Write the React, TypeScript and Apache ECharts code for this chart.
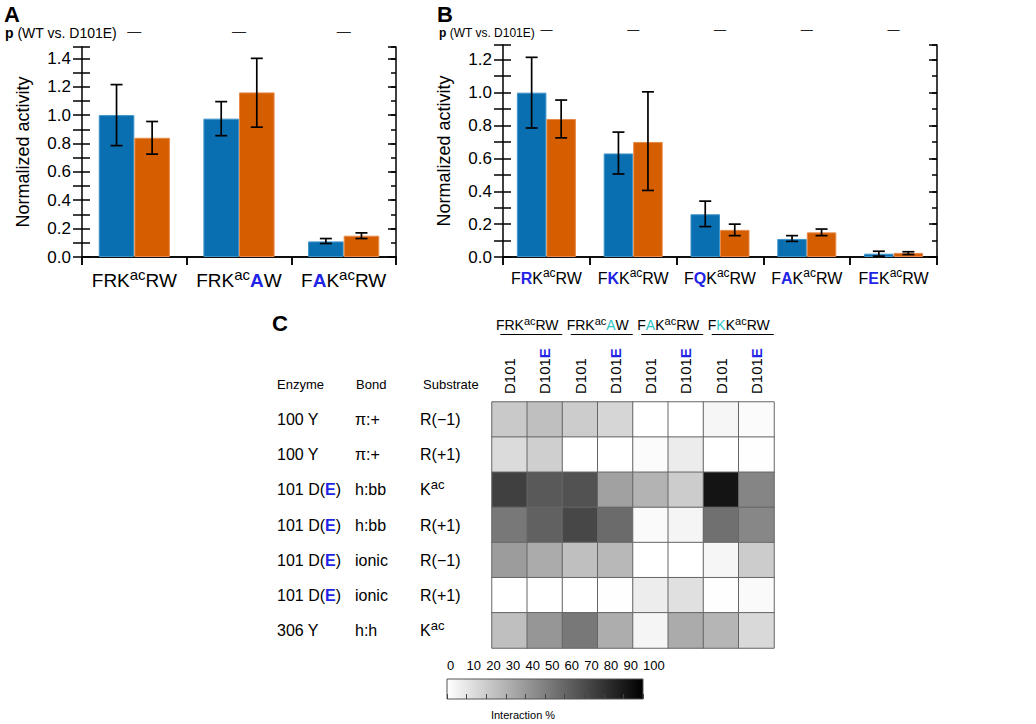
import React, { useEffect, useRef } from "react";
import * as echarts from "echarts";

const FONT = '"Liberation Sans", Arial, Helvetica, sans-serif';
const BLUE = "#0a6fb0";
const ORANGE = "#d55e00";
const MUT = "#1f24e6";
const CYAN = "#2cc4c8";

// Panel A
const catsA = ["FRK{s|ac}RW", "FRK{s|ac}{m|A}W", "F{m|A}K{s|ac}RW"];
const pA = ["—", "—", "—"];
const wtA = [1.0, 0.975, 0.11];
const wtLoA = [0.785, 0.855, 0.095];
const wtHiA = [1.215, 1.095, 0.13];
const mutA = [0.84, 1.16, 0.15];
const mutLoA = [0.725, 0.915, 0.13];
const mutHiA = [0.955, 1.4, 0.17];

// Panel B
const catsB = ["F{m|R}K{s|ac}RW", "F{m|K}K{s|ac}RW", "F{m|Q}K{s|ac}RW", "F{m|A}K{s|ac}RW", "F{m|E}K{s|ac}RW"];
const pB = ["—", "—", "—", "—", "—"];
const wtB = [1.0, 0.63, 0.26, 0.11, 0.02];
const wtLoB = [0.785, 0.505, 0.185, 0.095, 0.005];
const wtHiB = [1.215, 0.76, 0.34, 0.13, 0.035];
const mutB = [0.84, 0.7, 0.165, 0.15, 0.025];
const mutLoB = [0.725, 0.405, 0.13, 0.13, 0.015];
const mutHiB = [0.955, 1.005, 0.2, 0.17, 0.032];

// Panel C
const groupLabels = ["FRK{s|ac}RW", "FRK{s|ac}{c|A}W", "F{c|A}K{s|ac}RW", "F{c|K}K{s|ac}RW"];
const colLabels = ["D101", "D101E", "D101", "D101E", "D101", "D101E", "D101", "D101E"];
const enzymes = ["100 Y", "100 Y", "101 D(E)", "101 D(E)", "101 D(E)", "101 D(E)", "306 Y"];
const bonds = ["π:+", "π:+", "h:bb", "h:bb", "ionic", "ionic", "h:h"];
const substrates = ["R(−1)", "R(+1)", "Kac", "R(+1)", "R(−1)", "R(+1)", "Kac"];
const heatRows = [
  [21, 25, 20, 16, 0, 0, 3.5, 1.5],
  [14, 19, 0, 0, 1.5, 7.5, 0, 0.5],
  [75, 65, 68, 37, 30, 20, 92, 48],
  [53, 62, 72, 58, 2, 4, 56, 47],
  [39, 33, 25, 28, 0, 0, 3.5, 20],
  [0, 0, 0, 0.5, 7, 12, 0.5, 2],
  [25, 41, 53, 32, 4, 33, 29, 15],
];
const colorbarTicks = { min: 0, max: 100, step: 10 };

const BAR_FRAC = 0.34;

function errSeries(xi: number, yi: number, lo: number[], hi: number[], sign: number) {
  return {
    type: "custom",
    xAxisIndex: xi,
    yAxisIndex: yi,
    silent: true,
    z: 10,
    data: lo.map((l, i) => [i, l, hi[i]]),
    renderItem: (_p: any, api: any) => {
      const i = api.value(0);
      const p1 = api.coord([i, api.value(1)]);
      const p2 = api.coord([i, api.value(2)]);
      const band = api.size([1, 0])[0];
      const x = p1[0] + (sign * band * BAR_FRAC) / 2;
      const cap = 6;
      const st = { stroke: "#000", lineWidth: 1.7 };
      return {
        type: "group",
        children: [
          { type: "line", shape: { x1: x, y1: p1[1], x2: x, y2: p2[1] }, style: st },
          { type: "line", shape: { x1: x - cap, y1: p1[1], x2: x + cap, y2: p1[1] }, style: st },
          { type: "line", shape: { x1: x - cap, y1: p2[1], x2: x + cap, y2: p2[1] }, style: st },
        ],
      };
    },
  };
}

const lineSt = { color: "#000", width: 1.5 };

function barXAxes(grid: number, cats: string[], ps: string[], fontSize: number, pSize: number) {
  return [
    {
      type: "category",
      gridIndex: grid,
      position: "bottom",
      data: cats,
      axisLine: { show: true, lineStyle: lineSt },
      axisTick: { show: true, length: 8, lineStyle: lineSt },
      axisLabel: {
        interval: 0,
        color: "#000",
        fontSize,
        fontFamily: FONT,
        margin: 10,
        rich: {
          s: { fontSize: fontSize - 4, fontFamily: FONT, color: "#000", padding: [0, 0, 11, 0] },
          m: { fontSize, fontFamily: FONT, fontWeight: "bold", color: MUT },
        },
      },
    },
    {
      type: "category",
      gridIndex: grid,
      position: "top",
      data: ps,
      axisLine: { show: true, lineStyle: lineSt },
      axisTick: { show: true, inside: true, length: 8, lineStyle: lineSt },
      axisLabel: { interval: 0, color: "#222", fontSize: pSize, fontFamily: FONT, margin: 9 },
    },
  ];
}

function barYAxes(grid: number, max: number) {
  const common = { type: "value", gridIndex: grid, min: 0, max, splitLine: { show: false } };
  return [
    {
      ...common,
      position: "left",
      interval: 0.1,
      axisLine: { show: true, lineStyle: lineSt },
      axisTick: { show: true, length: 9, lineStyle: lineSt },
      axisLabel: {
        color: "#000",
        fontSize: 17,
        fontFamily: FONT,
        margin: 11,
        formatter: (v: number) => (Math.round(v * 10) % 2 === 0 ? v.toFixed(1) : ""),
      },
      name: "Normalized activity",
      nameLocation: "middle",
      nameGap: 50,
      nameTextStyle: { fontSize: 18, color: "#000", fontFamily: FONT },
    },
    {
      ...common,
      position: "left",
      interval: 0.1,
      axisLine: { show: false },
      axisTick: { show: true, inside: true, length: 8, lineStyle: lineSt },
      axisLabel: { show: false },
    },
    {
      ...common,
      position: "right",
      interval: 0.2,
      axisLine: { show: true, lineStyle: lineSt },
      axisTick: { show: true, inside: true, length: 8, lineStyle: lineSt },
      axisLabel: { show: false },
    },
    {
      ...common,
      position: "right",
      interval: 0.1,
      axisLine: { show: false },
      axisTick: { show: true, inside: true, length: 5, lineStyle: lineSt },
      axisLabel: { show: false },
    },
  ];
}

function barSeries(xi: number, yi: number, data: number[], color: string, border: string) {
  return {
    type: "bar",
    xAxisIndex: xi,
    yAxisIndex: yi,
    data,
    barWidth: BAR_FRAC * 100 + "%",
    barGap: "0%",
    silent: true,
    itemStyle: { color, borderColor: border, borderWidth: 1 },
  };
}

function heatYAxis(data: string[], margin: number, formatter: (v: string) => string) {
  return {
    type: "category",
    gridIndex: 2,
    inverse: true,
    position: "left",
    data,
    axisLine: { show: false },
    axisTick: { show: false },
    splitLine: { show: false },
    axisLabel: {
      interval: 0,
      align: "left",
      margin,
      color: "#000",
      fontSize: 16,
      fontFamily: FONT,
      formatter,
      rich: {
        e: { color: MUT, fontWeight: "bold", fontSize: 16, fontFamily: FONT },
        s: { fontSize: 13, fontFamily: FONT, color: "#000", padding: [0, 0, 10, 0] },
      },
    },
  };
}

const heatData: number[][] = [];
heatRows.forEach((row, r) => row.forEach((v, c) => heatData.push([c, r, v])));

const HX = 492, HY = 402, HW = 282, HH = 246;
const CB = { x: 447, y: 679, w: 196, h: 20 };

function txt(text: string, x: number, y: number, fontSize: number, extra: any = {}) {
  return {
    type: "text",
    x,
    y,
    silent: true,
    style: {
      text,
      fontSize,
      fontFamily: FONT,
      fill: "#000",
      align: "left",
      verticalAlign: "middle",
      textAlign: "left",
      textVerticalAlign: "middle",
      ...extra,
    },
  };
}

const underlines = groupLabels.map((_, g) => {
  const cw = HW / 8;
  const cx = HX + (2 * g + 1) * cw + 4;
  return {
    type: "line",
    silent: true,
    shape: { x1: cx - 31, y1: 334.5, x2: cx + 31, y2: 334.5 },
    style: { stroke: "#000", lineWidth: 1.2 },
  };
});

const option: any = {
  animation: false,
  textStyle: { fontFamily: FONT },
  grid: [
    { left: 82, top: 47, width: 314, height: 210 },
    { left: 503, top: 45, width: 434, height: 212 },
    { left: HX, top: HY, width: HW, height: HH },
    { left: CB.x, top: CB.y, width: CB.w, height: CB.h },
  ],
  xAxis: [
    ...barXAxes(0, catsA, pA, 19, 14),
    ...barXAxes(1, catsB, pB, 16, 12),
    {
      type: "category",
      gridIndex: 2,
      position: "top",
      data: colLabels,
      axisLine: { show: false },
      axisTick: { show: false },
      axisLabel: {
        interval: 0,
        rotate: -90,
        margin: 8,
        color: "#000",
        fontSize: 15,
        fontFamily: FONT,
        formatter: (v: string) => (v.endsWith("E") ? v.slice(0, -1) + "{e|E}" : v),
        rich: { e: { color: MUT, fontWeight: "bold", fontSize: 15, fontFamily: FONT } },
      },
    },
    {
      type: "category",
      gridIndex: 2,
      position: "top",
      offset: 62,
      data: groupLabels,
      axisLine: { show: false },
      axisTick: { show: false },
      axisLabel: {
        interval: 0,
        margin: 6,
        color: "#000",
        fontSize: 14,
        fontFamily: FONT,
        rich: {
          s: { fontSize: 11, fontFamily: FONT, color: "#000", padding: [0, 0, 8, 0] },
          c: { fontSize: 14, fontFamily: FONT, color: CYAN },
        },
      },
    },
    {
      type: "value",
      gridIndex: 3,
      position: "top",
      min: colorbarTicks.min,
      max: colorbarTicks.max,
      interval: colorbarTicks.step,
      axisLine: { show: false },
      axisTick: { show: true, length: 5, lineStyle: { color: "#444", width: 1 } },
      axisLabel: { margin: 7, align: "left", color: "#000", fontSize: 13, fontFamily: FONT },
      splitLine: { show: false },
    },
  ],
  yAxis: [
    ...barYAxes(0, 1.48),
    ...barYAxes(1, 1.29),
    heatYAxis(enzymes, 215, (v) => v.replace("(E)", "({e|E})")),
    heatYAxis(bonds, 137, (v) => v),
    heatYAxis(substrates, 72, (v) => v.replace("Kac", "K{s|ac}")),
    { type: "value", gridIndex: 3, show: false, min: 0, max: 1 },
  ],
  visualMap: {
    type: "continuous",
    show: false,
    min: 0,
    max: 100,
    seriesIndex: 8,
    dimension: 2,
    inRange: { color: ["#ffffff", "#000000"] },
  },
  series: [
    barSeries(0, 0, wtA, BLUE, "#3d94c9"),
    barSeries(0, 0, mutA, ORANGE, "#e88a4a"),
    errSeries(0, 0, wtLoA, wtHiA, -1),
    errSeries(0, 0, mutLoA, mutHiA, 1),
    barSeries(2, 4, wtB, BLUE, "#3d94c9"),
    barSeries(2, 4, mutB, ORANGE, "#e88a4a"),
    errSeries(2, 4, wtLoB, wtHiB, -1),
    errSeries(2, 4, mutLoB, mutHiB, 1),
    {
      type: "heatmap",
      xAxisIndex: 4,
      yAxisIndex: 8,
      data: heatData,
      silent: true,
      itemStyle: { borderColor: "#666", borderWidth: 1 },
      emphasis: { disabled: true },
    },
  ],
  graphic: [
    txt("A", 4, 14, 22, { fontWeight: "bold" }),
    txt("B", 437, 14, 22, { fontWeight: "bold" }),
    txt("C", 272, 323, 22, { fontWeight: "bold" }),
    txt("{b|p} (WT vs. D101E)", 5, 33, 14, { rich: { b: { fontWeight: "bold", fontSize: 14, fontFamily: FONT } } }),
    txt("{b|p} (WT vs. D101E)", 439, 33, 12, { rich: { b: { fontWeight: "bold", fontSize: 12, fontFamily: FONT } } }),
    txt("Enzyme", 277, 384, 13),
    txt("Bond", 356, 384, 13),
    txt("Substrate", 423, 384, 13),
    ...underlines,
    {
      type: "rect",
      silent: true,
      shape: { x: CB.x, y: CB.y, width: CB.w, height: CB.h },
      style: {
        fill: new echarts.graphic.LinearGradient(0, 0, 1, 0, [
          { offset: 0, color: "#ffffff" },
          { offset: 1, color: "#000000" },
        ]),
        stroke: "#555",
        lineWidth: 1,
      },
    },
    txt("Interaction %", 523, 715, 11, { align: "center", textAlign: "center" }),
  ],
};

export default function App() {
  const ref = useRef<HTMLDivElement>(null);
  useEffect(() => {
    const chart = echarts.init(ref.current!, null, { renderer: "svg" });
    chart.setOption(option);
    return () => chart.dispose();
  }, []);
  return (
    <div
      ref={ref}
      style={{ position: "absolute", left: 0, top: 0, width: 1036, height: 724 }}
    />
  );
}
